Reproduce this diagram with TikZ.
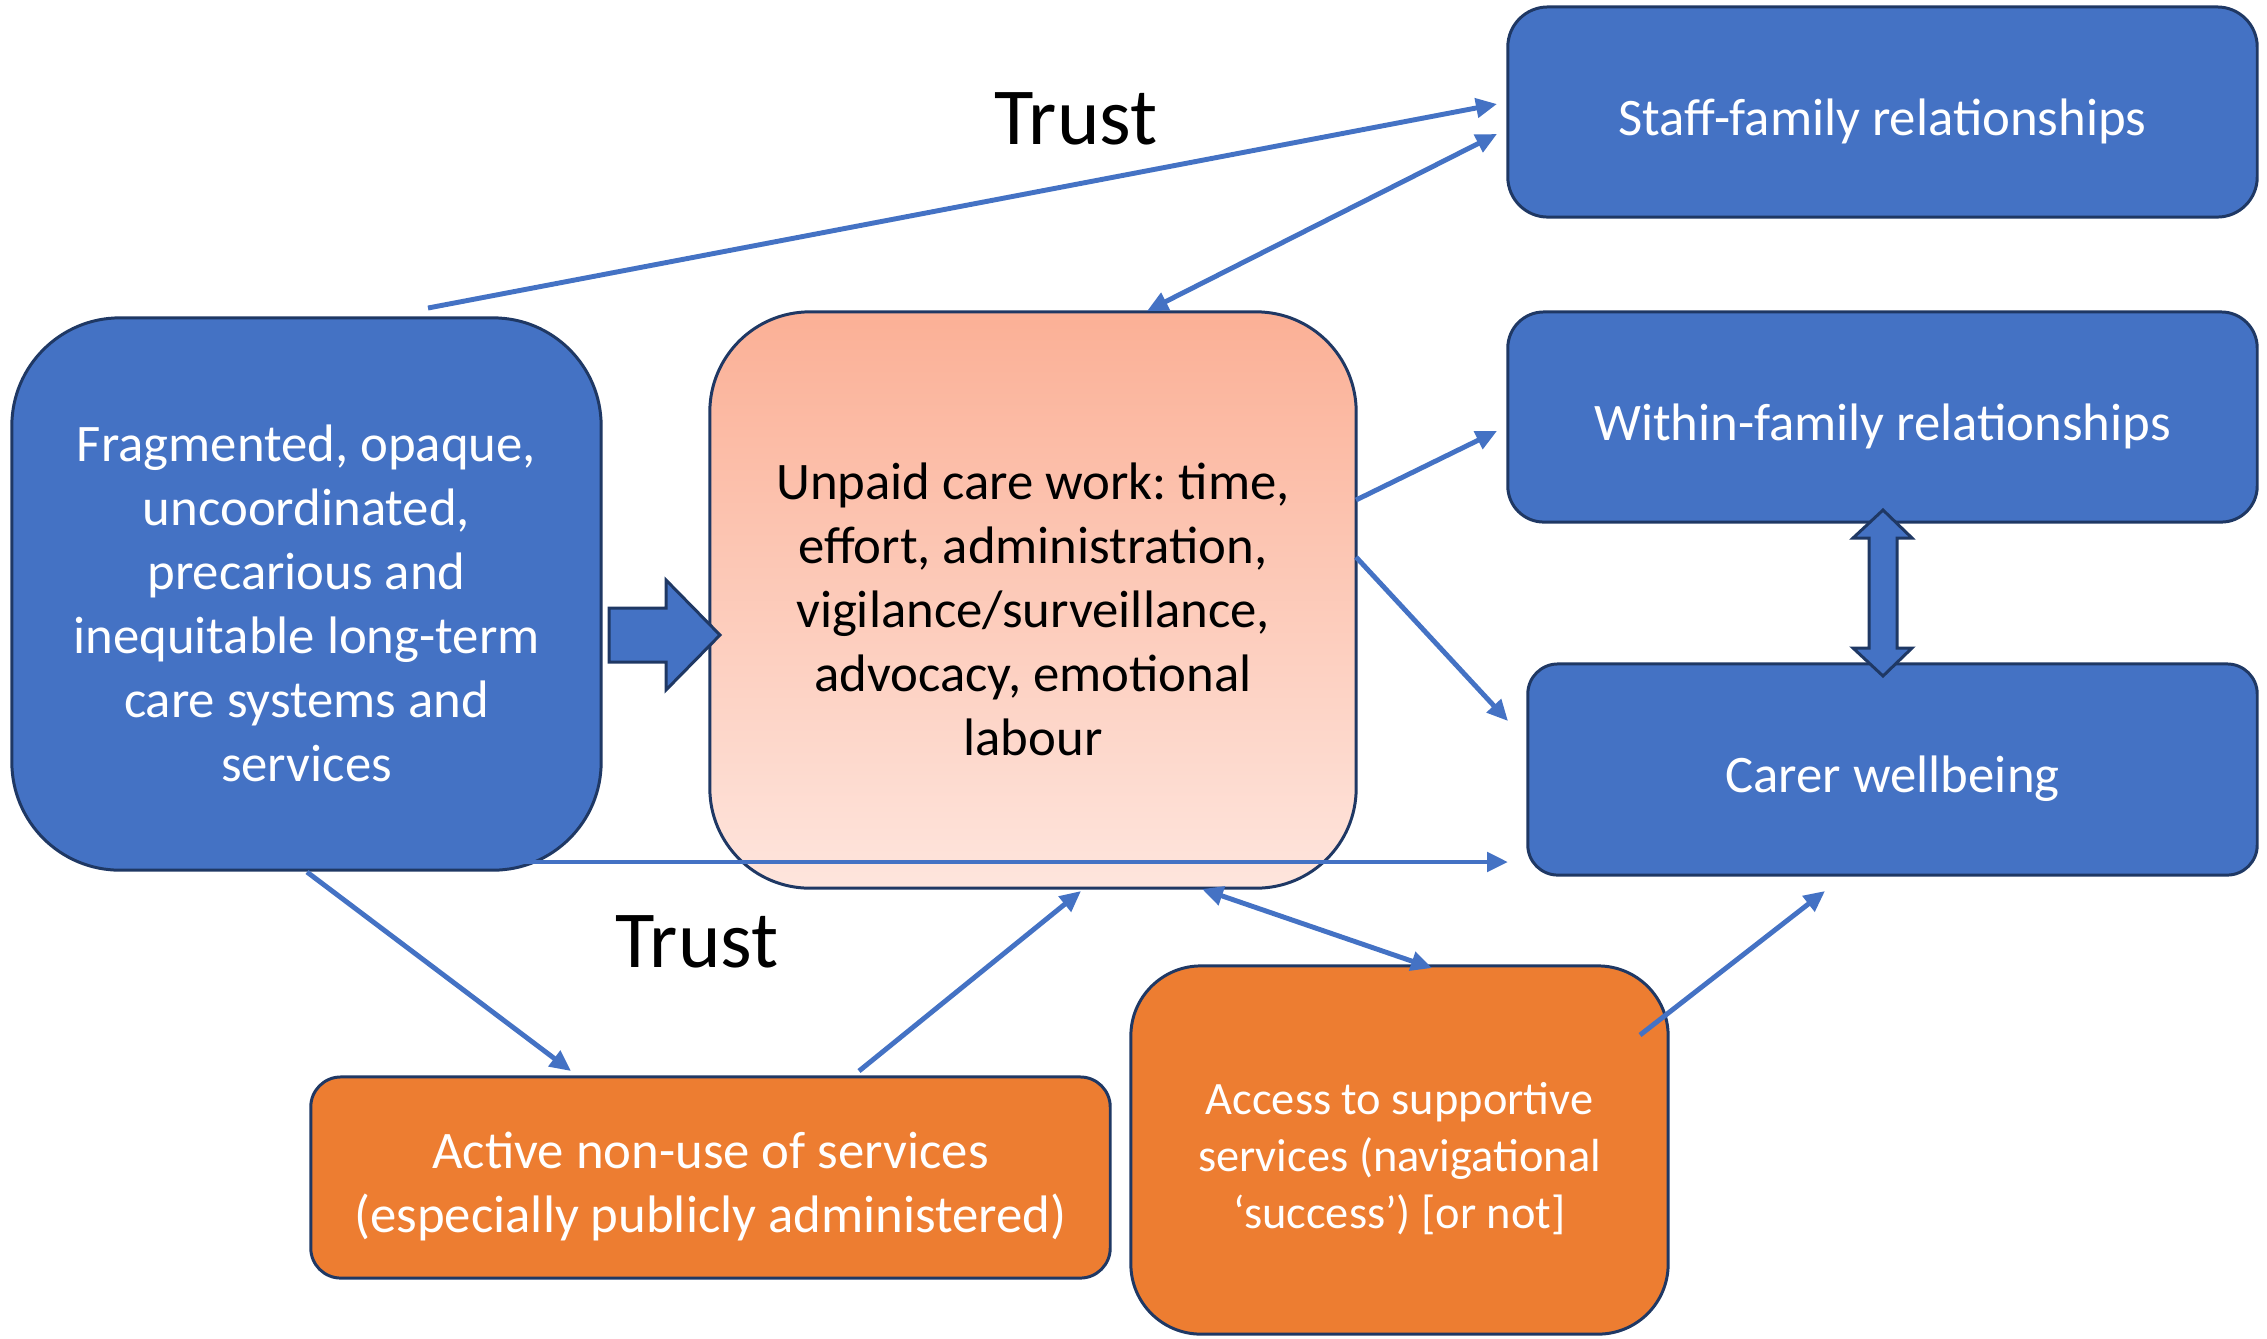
\documentclass[tikz,border=0pt]{standalone}
\usepackage{fontspec}
\setmainfont{Carlito}
\frenchspacing
\usetikzlibrary{arrows.meta}

\definecolor{boxblue}{RGB}{68,114,196}
\definecolor{boxorange}{RGB}{237,125,49}
\definecolor{edgenavy}{RGB}{31,56,100}
\definecolor{careTop}{RGB}{251,176,150}
\definecolor{careBottom}{RGB}{254,229,221}

\tikzset{
  box/.style={draw=edgenavy, line width=0.85pt, inner sep=0pt},
  bluebox/.style={box, fill=boxblue},
  orangebox/.style={box, fill=boxorange},
  boxtext/.style={align=center, inner sep=0pt, yshift=-0.09cm, text=white,
    font=\fontsize{15}{18.2}\selectfont},
  smalltext/.style={boxtext, font=\fontsize{13.2}{16.2}\selectfont},
  darktext/.style={boxtext, text=black},
  trustlabel/.style={font=\fontsize{23}{28}\selectfont, inner sep=0pt},
  link/.style={draw=boxblue, line width=1.4pt,
    -{Triangle[length=0.21cm,width=0.19cm]}},
  twolink/.style={draw=boxblue, line width=1.4pt,
    {Triangle[length=0.21cm,width=0.19cm]}-{Triangle[length=0.21cm,width=0.19cm]}},
  blockarrow/.style={fill=boxblue, draw=edgenavy, line width=0.85pt, line join=miter}
}

\begin{document}
\begin{tikzpicture}[x=0.01cm, y=-0.01cm]
\useasboundingbox (0,0) rectangle (2267,1338);

% Boxes, each with its text set at its centre
\node[bluebox, minimum width=7.49cm, minimum height=2.10cm, rounded corners=0.40cm,
  label={[boxtext]center:Staff-family relationships}]
  (staff) at (1882.5,112) {};
\node[bluebox, minimum width=7.49cm, minimum height=2.10cm, rounded corners=0.36cm,
  label={[boxtext]center:Within-family relationships}]
  (within) at (1882.5,417) {};
\node[bluebox, minimum width=7.29cm, minimum height=2.11cm, rounded corners=0.30cm,
  label={[boxtext]center:Carer wellbeing}]
  (carer) at (1892.5,769.5) {};
\node[bluebox, minimum width=5.89cm, minimum height=5.52cm, rounded corners=1.08cm,
  label={[boxtext]center:Fragmented, opaque,\\uncoordinated,\\precarious and\\inequitable long-term\\care systems and\\services}]
  (frag) at (306.5,594) {};
\node[box, top color=careTop, bottom color=careBottom,
  minimum width=6.46cm, minimum height=5.76cm, rounded corners=1.0cm,
  label={[darktext]center:Unpaid care work: time,\\effort, administration,\\vigilance/surveillance,\\advocacy, emotional\\labour}]
  (unpaid) at (1033,600) {};
\node[orangebox, minimum width=7.99cm, minimum height=2.01cm, rounded corners=0.30cm,
  label={[boxtext]center:Active non-use of services\\(especially publicly administered)}]
  (active) at (710.5,1177.5) {};
\node[orangebox, minimum width=5.37cm, minimum height=3.68cm, rounded corners=0.70cm,
  label={[smalltext]center:Access to supportive\\services (navigational\\‘success’) [or not]}]
  (access) at (1399.5,1150) {};

% Free-standing labels
\node[trustlabel] (trustA) at (1076,119) {Trust};
\node[trustlabel] (trustB) at (697,942) {Trust};

% Connector end points
\coordinate (fragTop) at (428,308);
\coordinate (staffIn1) at (1497,104);
\coordinate (staffIn2) at (1497,134);
\coordinate (unpaidTop) at (1147,311);
\coordinate (unpaidR1) at (1356,500);
\coordinate (withinIn) at (1497,431);
\coordinate (unpaidR2) at (1356,557);
\coordinate (carerIn1) at (1508,721);
\coordinate (fragLow) at (513,862);
\coordinate (carerIn2) at (1508,862);
\coordinate (fragBot) at (307,872);
\coordinate (activeIn) at (571,1071);
\coordinate (activeOut) at (859,1071);
\coordinate (unpaidB1) at (1081,891);
\coordinate (unpaidB2) at (1202,889);
\coordinate (accessTop) at (1432,968);
\coordinate (accessOut) at (1640,1035);
\coordinate (carerIn3) at (1825,891);

% Connectors
\draw[link] (fragTop) -- (staffIn1);
\draw[twolink] (unpaidTop) -- (staffIn2);
\draw[link] (unpaidR1) -- (withinIn);
\draw[link] (unpaidR2) -- (carerIn1);
\draw[link] (fragLow) -- (carerIn2);
\draw[link] (fragBot) -- (activeIn);
\draw[link] (activeOut) -- (unpaidB1);
\draw[twolink] (unpaidB2) -- (accessTop);
\draw[link] (accessOut) -- (carerIn3);

% Block arrow from the care systems box into unpaid care work
\filldraw[blockarrow] (609,608) -- (666,608) -- (666,580) -- (720,635)
  -- (666,690) -- (666,662) -- (609,662) -- cycle;

% Two-way block arrow between family relationships and carer wellbeing
\filldraw[blockarrow] (1883,510) -- (1912,538) -- (1897,538) -- (1897,648)
  -- (1912,648) -- (1883,676) -- (1853,648) -- (1869,648) -- (1869,538)
  -- (1853,538) -- cycle;
\end{tikzpicture}
\end{document}
